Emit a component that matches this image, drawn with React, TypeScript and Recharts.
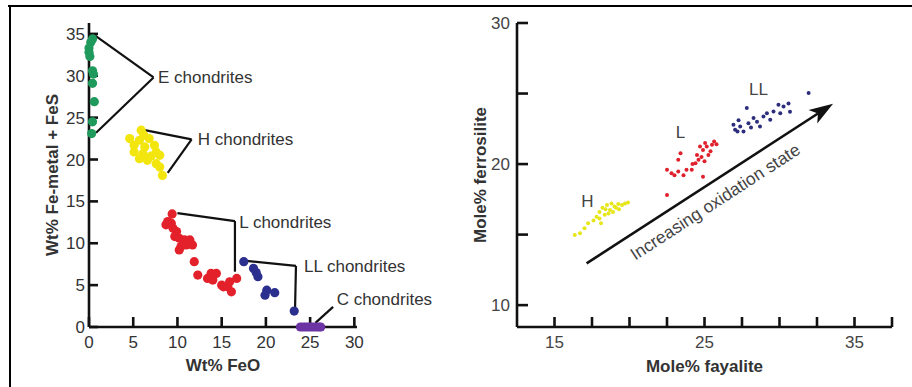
import React from "react";
import {
  ScatterChart,
  Scatter,
  XAxis,
  YAxis,
  ReferenceLine,
  ReferenceDot,
} from "recharts";

// ---- left panel: Wt% FeO vs Wt% Fe-metal + FeS ----
const eChondrites = [
  { x: 0.4, y: 34.4 }, { x: 0.2, y: 34.0 }, { x: 0, y: 33.3 }, { x: 0, y: 32.8 },
  { x: 0.1, y: 32.3 }, { x: 0.4, y: 30.6 }, { x: 0.5, y: 30.2 }, { x: 0.4, y: 29.1 },
  { x: 0.6, y: 26.9 }, { x: 0.4, y: 24.5 }, { x: 0.3, y: 23.1 },
];
const hChondrites = [
  { x: 5.9, y: 23.5 }, { x: 4.6, y: 22.5 }, { x: 5.1, y: 21.7 }, { x: 5.7, y: 22.3 },
  { x: 6.3, y: 21.5 }, { x: 6.8, y: 22.5 }, { x: 7.4, y: 21.7 }, { x: 7.6, y: 20.9 },
  { x: 8.0, y: 20.5 }, { x: 6.1, y: 20.7 }, { x: 5.7, y: 20.1 }, { x: 6.6, y: 19.9 },
  { x: 7.6, y: 19.5 }, { x: 8.0, y: 19.1 }, { x: 8.3, y: 18.1 }, { x: 5.1, y: 20.9 },
  { x: 7.0, y: 20.4 }, { x: 6.2, y: 22.9 },
];
const lChondrites = [
  { x: 9.4, y: 13.5 }, { x: 8.9, y: 12.6 }, { x: 8.7, y: 12.2 }, { x: 9.3, y: 12.4 },
  { x: 9.5, y: 11.8 }, { x: 9.9, y: 11.4 }, { x: 9.7, y: 10.8 }, { x: 10.2, y: 10.6 },
  { x: 10.8, y: 10.4 }, { x: 11.4, y: 10.4 }, { x: 11.7, y: 9.8 }, { x: 10.4, y: 9.6 },
  { x: 10.2, y: 9.2 }, { x: 11.0, y: 9.8 }, { x: 11.9, y: 7.8 }, { x: 12.3, y: 6.2 },
  { x: 13.4, y: 5.8 }, { x: 13.8, y: 6.4 }, { x: 14.4, y: 6.4 }, { x: 14.0, y: 5.6 },
  { x: 15.0, y: 5.0 }, { x: 15.2, y: 4.8 }, { x: 15.7, y: 4.8 }, { x: 16.1, y: 4.2 },
  { x: 16.7, y: 5.8 }, { x: 15.9, y: 5.4 },
];
const llChondrites = [
  { x: 17.5, y: 7.8 }, { x: 18.6, y: 7.0 }, { x: 19.1, y: 6.0 }, { x: 18.9, y: 6.5 },
  { x: 20.1, y: 4.4 }, { x: 19.9, y: 3.8 }, { x: 21.0, y: 4.1 }, { x: 23.2, y: 1.9 },
];
const cChondrites = [
  { x: 23.9, y: 0 }, { x: 24.2, y: 0 }, { x: 24.5, y: 0 }, { x: 24.8, y: 0 },
  { x: 25.1, y: 0 }, { x: 25.4, y: 0 }, { x: 25.7, y: 0 }, { x: 26.0, y: 0 }, { x: 26.2, y: 0 },
];
const leftXTicks = [0, 5, 10, 15, 20, 25, 30];
const leftYTicks = [0, 5, 10, 15, 20, 25, 30, 35];

// leader lines (data units) and their labels
const leaders = [
  { name: "E chondrites", path: [{ x: 0.7, y: 34.8 }, { x: 7.3, y: 29.8 }, { x: 0.8, y: 23.2 }], at: { x: 7.8, y: 29.8 } },
  { name: "H chondrites", path: [{ x: 6.3, y: 23.5 }, { x: 11.6, y: 22.4 }, { x: 8.9, y: 18.4 }], at: { x: 12.3, y: 22.4 } },
  { name: "L chondrites", path: [{ x: 10.0, y: 13.6 }, { x: 16.5, y: 12.65 }, { x: 16.5, y: 6.6 }], at: { x: 17.0, y: 12.55 } },
  { name: "LL chondrites", path: [{ x: 17.8, y: 7.9 }, { x: 23.4, y: 7.3 }, { x: 23.3, y: 2.4 }], at: { x: 24.3, y: 7.3 } },
  { name: "C chondrites", path: [{ x: 25.6, y: 0.5 }, { x: 27.6, y: 2.4 }], at: { x: 28.0, y: 3.3 } },
];

// ---- right panel: Mole% fayalite vs Mole% ferrosilite ----
const hPyroxene = [
  { x: 16.35, y: 14.97 }, { x: 16.7, y: 15.1 }, { x: 17.0, y: 15.45 }, { x: 17.24, y: 15.8 },
  { x: 17.6, y: 16.0 }, { x: 17.8, y: 16.27 }, { x: 18.0, y: 16.6 }, { x: 18.2, y: 16.9 },
  { x: 18.5, y: 17.1 }, { x: 18.7, y: 16.75 }, { x: 18.8, y: 17.2 }, { x: 19.0, y: 17.0 },
  { x: 19.25, y: 17.17 }, { x: 19.5, y: 17.1 }, { x: 19.7, y: 17.2 }, { x: 19.9, y: 17.27 },
  { x: 18.0, y: 16.15 }, { x: 18.35, y: 16.4 }, { x: 18.6, y: 16.5 }, { x: 18.9, y: 16.6 },
  { x: 18.1, y: 15.8 }, { x: 19.1, y: 16.9 }, { x: 18.4, y: 16.8 }, { x: 19.3, y: 16.8 },
];
const lPyroxene = [
  { x: 22.5, y: 17.8 }, { x: 23.25, y: 20.3 }, { x: 23.4, y: 20.77 }, { x: 22.5, y: 19.6 },
  { x: 22.8, y: 19.35 }, { x: 23.0, y: 19.2 }, { x: 23.25, y: 19.47 }, { x: 23.6, y: 19.2 },
  { x: 23.8, y: 19.6 }, { x: 24.15, y: 19.6 }, { x: 24.4, y: 20.06 }, { x: 24.6, y: 20.3 },
  { x: 24.8, y: 20.5 }, { x: 24.5, y: 20.65 }, { x: 24.9, y: 21.0 }, { x: 25.15, y: 21.24 },
  { x: 25.26, y: 20.65 }, { x: 25.5, y: 21.37 }, { x: 25.64, y: 21.6 }, { x: 25.04, y: 21.5 },
  { x: 24.7, y: 21.25 }, { x: 25.4, y: 20.9 }, { x: 24.9, y: 19.1 }, { x: 25.0, y: 20.2 },
  { x: 24.2, y: 20.0 }, { x: 25.8, y: 21.4 },
];
const llPyroxene = [
  { x: 26.93, y: 22.78 }, { x: 27.04, y: 22.43 }, { x: 27.38, y: 22.66 }, { x: 27.6, y: 22.3 },
  { x: 27.82, y: 23.97 }, { x: 27.93, y: 22.9 }, { x: 28.27, y: 23.26 }, { x: 28.5, y: 23.0 },
  { x: 28.7, y: 22.66 }, { x: 28.93, y: 23.37 }, { x: 29.16, y: 23.6 }, { x: 29.38, y: 23.14 },
  { x: 29.6, y: 23.73 }, { x: 29.93, y: 24.2 }, { x: 30.05, y: 23.6 }, { x: 30.27, y: 24.08 },
  { x: 30.6, y: 24.3 }, { x: 30.7, y: 23.7 }, { x: 31.94, y: 25.03 }, { x: 27.27, y: 23.1 },
  { x: 28.1, y: 22.6 }, { x: 27.2, y: 22.3 },
];
const rightXTicks = [15, 17.5, 20, 22.5, 25, 27.5, 30, 32.5, 35, 37.5];
const rightYTicks = [10, 15, 20, 25, 30];
const groupLabels = [
  { name: "H", x: 17.2, y: 17.35 },
  { name: "L", x: 23.4, y: 22.3 },
  { name: "LL", x: 28.6, y: 25.3 },
];
const arrowFrom = { x: 17.14, y: 12.96 };
const arrowTo = { x: 33.57, y: 24.28 };

const INK = "#111";
const TEXT = "#333";

const dot = (r: number) => (p: any) => <circle cx={p.cx} cy={p.cy} r={r} fill={p.fill} />;
const bigDot = dot(4.6);
const smallDot = dot(2);

const Arrow = (p: any) => {
  const { x1, y1, x2, y2 } = p;
  const a = Math.atan2(y2 - y1, x2 - x1);
  const len = 24;
  const w = 8;
  const bx = x2 - len * Math.cos(a);
  const by = y2 - len * Math.sin(a);
  const nx = x2 - (len - 6) * Math.cos(a);
  const ny = y2 - (len - 6) * Math.sin(a);
  return (
    <g>
      <line x1={x1} y1={y1} x2={nx} y2={ny} stroke={INK} strokeWidth={2.6} />
      <polygon
        points={`${x2},${y2} ${bx - w * Math.sin(a)},${by + w * Math.cos(a)} ${nx},${ny} ${bx + w * Math.sin(a)},${by - w * Math.cos(a)}`}
        fill={INK}
      />
    </g>
  );
};

const yTitle = (text: string, cx: number) => (props: any) => {
  const vb = props.viewBox;
  const cy = vb.y + vb.height / 2;
  return (
    <text x={cx} y={cy} transform={`rotate(-90 ${cx} ${cy})`} textAnchor="middle"
      dominantBaseline="central" fontSize={17} fontWeight="bold" fill={TEXT}>
      {text}
    </text>
  );
};

const xTitle = (text: string, cy: number) => (props: any) => {
  const vb = props.viewBox;
  return (
    <text x={vb.x + vb.width / 2} y={cy} textAnchor="middle" dominantBaseline="central"
      fontSize={17} fontWeight="bold" fill={TEXT}>
      {text}
    </text>
  );
};

const tickStyle = { fill: TEXT, fontSize: 17 };

const App = () => {
  return (
    <div style={{ position: "relative", width: 912, height: 387, background: "#fff", fontFamily: "'Liberation Sans', Arial, sans-serif" }}>
      <style>{"body{margin:0}"}</style>
      <div style={{ position: "absolute", left: 8, top: 4.5, width: 904, height: 2.2, background: "#000" }} />
      <div style={{ position: "absolute", left: 8.5, top: 4.5, width: 2.2, height: 383, background: "#000" }} />

      <div style={{ position: "absolute", left: 0, top: 0 }}>
        <ScatterChart width={460} height={387} margin={{ top: 23, right: 103, bottom: 10, left: 0 }}>
          <XAxis type="number" dataKey="x" domain={[0, 30.3]} ticks={leftXTicks} interval={0}
            height={50} axisLine={{ stroke: INK, strokeWidth: 2.6 }}
            tickLine={{ stroke: INK, strokeWidth: 2.6 }} tickSize={-10} tickMargin={19}
            tick={tickStyle} label={{ content: xTitle("Wt% FeO", 365) }} />
          <YAxis type="number" dataKey="y" domain={[0, 36.3]} ticks={leftYTicks} interval={0}
            width={89} axisLine={{ stroke: INK, strokeWidth: 2.6 }}
            tickLine={{ stroke: INK, strokeWidth: 2.6 }} tickSize={-9} tickMargin={13}
            tick={tickStyle} label={{ content: yTitle("Wt% Fe-metal + FeS", 52) }} />
          {leaders.map((l) =>
            l.path.slice(1).map((pt, i) => (
              <ReferenceLine key={`${l.name}-${i}`} segment={[l.path[i], pt]} stroke={INK} strokeWidth={2.2} />
            ))
          )}
          {leaders.map((l) => (
            <ReferenceDot key={l.name} x={l.at.x} y={l.at.y} r={0} stroke="none" fill="none"
              label={{ value: l.name, position: "right", offset: 0, fill: TEXT, fontSize: 17 }} />
          ))}
          <Scatter data={eChondrites} fill="#1f9a5c" shape={bigDot} isAnimationActive={false} />
          <Scatter data={hChondrites} fill="#f3e60f" shape={bigDot} isAnimationActive={false} />
          <Scatter data={lChondrites} fill="#e3212b" shape={bigDot} isAnimationActive={false} />
          <Scatter data={llChondrites} fill="#2b2f8d" shape={bigDot} isAnimationActive={false} />
          <Scatter data={cChondrites} fill="#6c34a4" shape={bigDot} isAnimationActive={false} />
        </ScatterChart>
      </div>

      <div style={{ position: "absolute", left: 460, top: 0 }}>
        <ScatterChart width={452} height={387} margin={{ top: 23, right: 20, bottom: 10, left: 0 }}>
          <XAxis type="number" dataKey="x" domain={[12.5, 37.5]} ticks={rightXTicks} interval={0}
            height={50} axisLine={{ stroke: INK, strokeWidth: 2.6 }}
            tickLine={{ stroke: INK, strokeWidth: 2.6 }} tickSize={-10} tickMargin={19}
            tick={{ ...tickStyle, fill: "#444" }}
            tickFormatter={(v: number) => (v % 10 === 5 ? String(v) : "")}
            label={{ content: xTitle("Mole% fayalite", 366.5) }} />
          <YAxis type="number" dataKey="y" domain={[8.45, 30]} ticks={rightYTicks} interval={0}
            width={57} axisLine={{ stroke: INK, strokeWidth: 2.6 }}
            tickLine={{ stroke: INK, strokeWidth: 2.6 }} tickSize={-11} tickMargin={18}
            tick={{ ...tickStyle, fill: "#444" }}
            tickFormatter={(v: number) => (v % 10 === 0 ? String(v) : "")}
            label={{ content: yTitle("Mole% ferrosilite", 20.7) }} />
          <Scatter data={hPyroxene} fill="#e6e619" shape={smallDot} isAnimationActive={false} />
          <Scatter data={lPyroxene} fill="#e0202c" shape={smallDot} isAnimationActive={false} />
          <Scatter data={llPyroxene} fill="#2d2d7d" shape={smallDot} isAnimationActive={false} />
          <ReferenceLine segment={[arrowFrom, arrowTo]} shape={Arrow} />
          {groupLabels.map((g) => (
            <ReferenceDot key={g.name} x={g.x} y={g.y} r={0} stroke="none" fill="none"
              label={{ value: g.name, position: "center", fill: "#444", fontSize: 17 }} />
          ))}
          <ReferenceDot x={25.7} y={17.34} r={0} stroke="none" fill="none"
            label={{ value: "Increasing oxidation state", position: "center", angle: -33, fill: "#444", fontSize: 17.5 }} />
        </ScatterChart>
      </div>
    </div>
  );
};

export default App;
